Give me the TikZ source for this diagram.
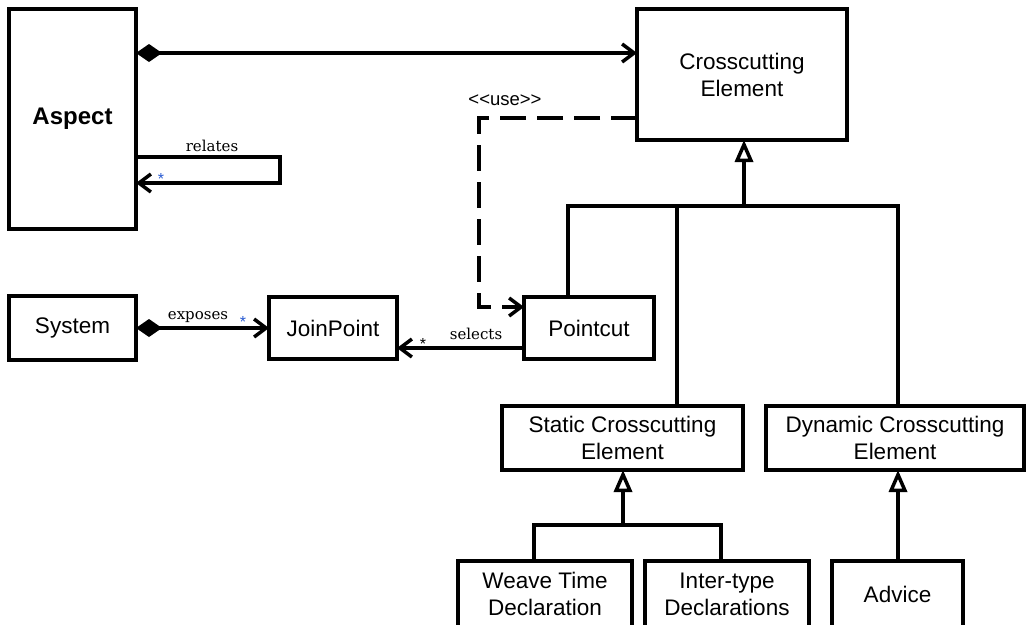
\documentclass[tikz,border=0pt]{standalone}
\usepackage{fontspec}
\setmainfont{Liberation Sans}
\newfontfamily\serifrole{DejaVu Serif}
\usetikzlibrary{arrows.meta}
\definecolor{starblue}{RGB}{40,90,210}
\tikzset{
  umlbox/.style={draw, line width=3.5pt, inner sep=0pt, outer sep=0pt,
    align=center, font=\fontsize{22.5}{27}\selectfont},
  wire/.style={line width=3.5pt},
  comp/.style={wire, {Diamond[length=26pt,width=18pt]}-{Straight Barb[length=12pt,width=18pt]}},
  assoc/.style={wire, -{Straight Barb[length=12pt,width=18pt]}},
  usedep/.style={wire, dash pattern=on 26pt off 11pt, -{Straight Barb[length=12pt,width=18pt]}},
  gen/.style={wire, -{Triangle[length=22pt,width=18pt,fill=white]}},
  rolelabel/.style={font=\serifrole\fontsize{15}{17}\selectfont, inner sep=0pt},
  stereo/.style={font=\fontsize{18.5}{20}\selectfont, inner sep=0pt},
  mult/.style={font=\fontsize{16}{17}\selectfont, inner sep=0pt},
}
\begin{document}
\begin{tikzpicture}[x=1pt, y=-1pt]
  \useasboundingbox (0,0) rectangle (1027,624);
  \fill[white] (0,0) rectangle (1027,624);
  \clip (0,0) rectangle (1027,624);

  % classes
  \node[umlbox, minimum width=127pt, minimum height=220pt,
        font=\bfseries\fontsize{24}{28}\selectfont] (Aspect) at (72.5,119) {Aspect};
  \node[umlbox, minimum width=210pt, minimum height=131pt] (CE) at (742,74.5) {Crosscutting\\Element};
  \node[umlbox, minimum width=127pt, minimum height=64pt] (System) at (72.5,328) {System};
  \node[umlbox, minimum width=128pt, minimum height=62pt] (JoinPoint) at (333,328) {JoinPoint};
  \node[umlbox, minimum width=130pt, minimum height=62pt] (Pointcut) at (589,328) {Pointcut};
  \node[umlbox, minimum width=241pt, minimum height=64pt] (Static) at (622.5,438) {Static Crosscutting\\Element};
  \node[umlbox, minimum width=258pt, minimum height=64pt] (Dynamic) at (895,438) {Dynamic Crosscutting\\Element};
  \node[umlbox, minimum width=174pt, minimum height=66pt] (Weave) at (545,594) {Weave Time\\Declaration};
  \node[umlbox, minimum width=164pt, minimum height=66pt] (Inter) at (727,594) {Inter-type\\Declarations};
  \node[umlbox, minimum width=131pt, minimum height=66pt] (Advice) at (897.5,594) {Advice};

  % Aspect composes crosscutting elements
  \draw[comp] (Aspect.east |- 0,53) -- (CE.west |- 0,53);

  % self association "relates"
  \draw[assoc] (Aspect.east |- 0,157) -- (280,157) -- (280,183) -- (Aspect.east |- 0,183);
  \node[rolelabel] (relLbl) at (212,146) {relates};
  \node[mult, text=starblue] (relMult) at (161,179) {*};

  % System exposes join points
  \draw[comp] (System.east) -- (JoinPoint.west);
  \node[rolelabel] (expLbl) at (198,317) {exposes};
  \node[mult, text=starblue] (expMult) at (243,322) {*};

  % Pointcut selects join points
  \draw[assoc] (Pointcut.west |- 0,348) -- (JoinPoint.east |- 0,348);
  \node[rolelabel] (selLbl) at (476,333.5) {selects};
  \node[mult] (selMult) at (423,344) {*};

  % <<use>> dependency
  \draw[usedep] (CE.west |- 0,118) -| (479,307) -- (Pointcut.west |- 0,307);
  \node[stereo] (useLbl) at (505,100) {<\kern0pt<use>\kern0pt>};

  % generalisation of crosscutting elements
  \coordinate (hubTop) at (744,206);
  \draw[gen] (hubTop) -- (CE.south -| hubTop);
  \draw[wire] (Pointcut.north -| 568,0) |- (hubTop) -| (Dynamic.north -| 898,0);
  \draw[wire] (Static.north -| 677,0) -- (677,206);

  \coordinate (hubStatic) at (623,525);
  \draw[gen] (hubStatic) -- (Static.south -| hubStatic);
  \draw[wire] (Weave.north -| 534,0) |- (hubStatic) -| (Inter.north -| 721,0);

  \draw[gen] (Advice.north -| 898,0) -- (Dynamic.south -| 898,0);
\end{tikzpicture}
\end{document}
